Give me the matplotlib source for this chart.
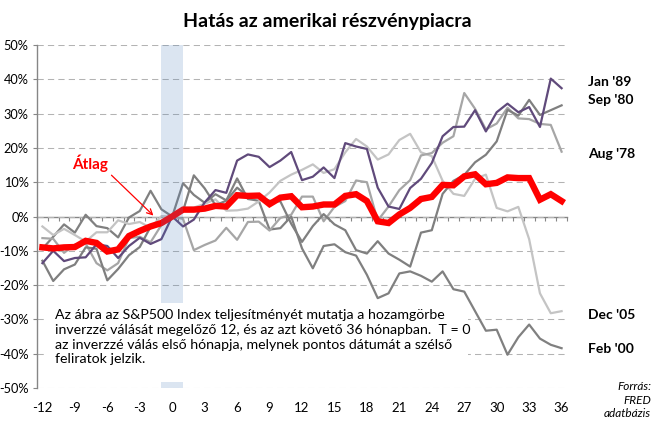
import numpy as np
import matplotlib
matplotlib.use('Agg')
import matplotlib.pyplot as plt
from matplotlib.patches import Rectangle

plt.rcParams['font.family'] = ['Lato', 'DejaVu Sans']
plt.rcParams['axes.unicode_minus'] = False

months = list(range(-12, 37))

# kumulalt S&P500 hozam (%) az inverzio honapjahoz kepest
jan89 = [-13.6, -10.0, -13.0, -12.1, -11.9, -8.1, -8.6, -12.1, -8.6, -6.2, -8.0, -6.6, 0.0,
         -2.9, -0.9, 4.1, 7.7, 6.9, 16.3, 18.1, 17.4, 14.4, 16.3, 18.8, 10.6,
         11.6, 14.3, 11.2, 21.4, 20.4, 19.7, 8.4, 2.9, 2.2, 8.3, 11.0, 15.6,
         23.4, 26.1, 26.2, 31.0, 24.8, 30.4, 32.9, 30.4, 31.9, 26.1, 40.2, 37.4]
sep80 = [-12.9, -18.8, -15.4, -14.0, -9.0, -9.4, -18.6, -15.3, -11.3, -8.9, -3.0, -2.5, 0.0,
         1.6, 12.0, 8.2, 3.3, 4.6, 8.4, 5.9, 5.7, 4.6, 4.4, -2.1, -7.4,
         -2.8, 0.7, -2.3, -4.0, -9.8, -10.8, -7.2, -10.8, -12.6, -14.6, -4.7, -4.0,
         6.6, 10.4, 12.1, 15.8, 18.0, 21.9, 31.1, 29.4, 34.0, 29.6, 31.0, 32.4]
aug78 = [-6.3, -6.5, -10.6, -8.2, -7.9, -13.6, -15.7, -13.6, -6.3, -5.9, -7.5, -2.5, 0.0,
         -0.7, -9.8, -8.3, -7.0, -3.3, -6.8, -1.6, -1.5, -4.1, -0.4, 0.5, 5.8,
         5.8, -1.4, 2.8, 4.5, 10.5, 10.0, -1.2, 2.9, 7.7, 10.6, 17.8, 18.5,
         21.5, 23.4, 36.0, 31.4, 25.4, 27.1, 31.7, 28.6, 28.4, 27.0, 26.7, 18.9]
dec05 = [-2.9, -5.4, -3.6, -5.4, -7.3, -4.6, -4.6, -1.1, -2.2, -1.6, -3.3, 0.1, 0.0,
         2.5, 2.6, 3.7, 5.0, 1.7, 1.8, 2.3, 4.4, 7.0, 10.4, 12.2, 13.6,
         15.2, 12.7, 13.8, 18.7, 22.6, 20.4, 16.6, 18.1, 22.3, 24.1, 18.7, 17.6,
         10.4, 6.6, 6.0, 11.0, 12.2, 2.5, 1.5, 2.8, -6.6, -22.4, -28.2, -27.6]
feb00 = [-9.4, -5.9, -2.3, -4.7, 0.5, -2.8, -3.4, -6.1, -0.3, 1.6, 7.5, 2.1, 0.0,
         9.7, 6.3, 4.0, 6.5, 4.7, 11.1, 5.1, 4.6, -3.8, -3.4, 0.0, -9.3,
         -15.1, -8.6, -8.1, -10.4, -11.4, -17.0, -23.8, -22.4, -16.6, -16.0, -17.3, -19.0,
         -16.0, -21.2, -21.9, -27.6, -33.3, -33.0, -40.3, -35.2, -31.5, -35.6, -37.4, -38.4]
atlag = [-9.0, -9.3, -9.0, -8.9, -7.1, -7.7, -10.2, -9.6, -5.7, -4.2, -2.9, -1.9, 0.0,
         2.0, 2.0, 2.3, 3.1, 2.9, 6.2, 6.0, 6.1, 3.6, 5.5, 5.9, 2.7,
         2.9, 3.5, 3.5, 6.0, 6.5, 4.5, -1.4, -1.9, 0.6, 2.5, 5.1, 5.7,
         9.2, 9.1, 11.7, 12.3, 9.4, 9.8, 11.4, 11.2, 11.2, 4.9, 6.5, 4.5]

series = [
    ("Jan '89", jan89, '#604A7B'),
    ("Sep '80", sep80, '#7F7F7F'),
    ("Aug '78", aug78, '#A6A6A6'),
    ("Dec '05", dec05, '#C4C4C4'),
    ("Feb '00", feb00, '#808080'),
]
label_y = {"Jan '89": 82, "Sep '80": 100, "Aug '78": 154, "Dec '05": 315, "Feb '00": 349}

fig = plt.figure(figsize=(6.58, 4.24), dpi=100)
ax = fig.add_axes([37/658, 1-388/424, 530/658, 343/424])

for name, vals, col in series[::-1]:
    ax.plot(months, vals, color=col, lw=1.6, zorder=2)
ax.plot(months, atlag, color='#FF0000', lw=4.6, zorder=3, solid_joinstyle='miter')

# inverzio honapja
ax.axvspan(-1, 1, color='#4F81BD', alpha=0.2, lw=0, zorder=4)

ax.set_xlim(-12.5, 36.5)
ax.set_ylim(-50, 50)
ax.set_yticks(range(-50, 51, 10))
ax.set_yticklabels(['%d%%' % v for v in range(-50, 51, 10)])
ax.set_xticks(range(-12, 37, 3))
ax.set_xticklabels([str(m) for m in range(-12, 37, 3)])
ax.yaxis.grid(True, ls=(0, (6, 4)), color='#B3B3B3', lw=0.75)
ax.set_axisbelow(True)
for s in ['top', 'right', 'bottom']:
    ax.spines[s].set_visible(False)
ax.spines['left'].set_color('#868686')
ax.spines['left'].set_linewidth(1.0)
ax.tick_params(axis='y', length=3, color='#868686', labelsize=9.2, pad=3)
ax.tick_params(axis='x', length=0, labelsize=9.5, pad=10)

# 0 vonal a kategoria-osztasokkal
sec = ax.secondary_xaxis(0.5)
sec.set_alignment('bottom')
sec.set_xticks(np.arange(-12.5, 37, 1))
sec.tick_params(axis='x', length=3, color='#868686', labelbottom=False, labeltop=False)
sec.spines['bottom'].set_color('#868686')
sec.spines['bottom'].set_linewidth(1.0)

# szoveges doboz
ax.add_patch(Rectangle((8/530, 6/343), 423/530, 79/343, transform=ax.transAxes,
                       facecolor='white', edgecolor='none', zorder=5))
note = ("Az ábra az S&P500 Index teljesítményét mutatja a hozamgörbe\n"
        "inverzzé válását megelőző 12, és az azt követő 36 hónapban.  T = 0\n"
        "az inverzzé válás első hónapja, melynek pontos dátumát a szélső\n"
        "feliratok jelzik.")
fig.text(55/658, 1-309/424, note, fontsize=10.2, va='top', ha='left',
         linespacing=1.28, zorder=6)

ax.text(-7.6, 15.5, 'Átlag', color='#FF0000', fontsize=11, fontweight='bold',
        ha='center', va='center')
ax.annotate('', xy=(-1.55, -0.3), xytext=(-5.8, 12.6),
            arrowprops=dict(arrowstyle='->', color='#FF0000', lw=0.9), zorder=6)

for name, vals, col in series:
    fig.text(588/658, 1-label_y[name]/424, name, fontsize=10, fontweight='bold',
             ha='left', va='center')

fig.text(0.497, 1-22/424, 'Hatás az amerikai részvénypiacra', fontsize=14,
         fontweight='bold', ha='center', va='center')
fig.text(651/658, 1-400/424, 'Forrás:\nFRED\nadatbázis', fontsize=8.5, style='italic',
         ha='right', va='center', linespacing=1.3)

fig.savefig('out.png', dpi=100)
